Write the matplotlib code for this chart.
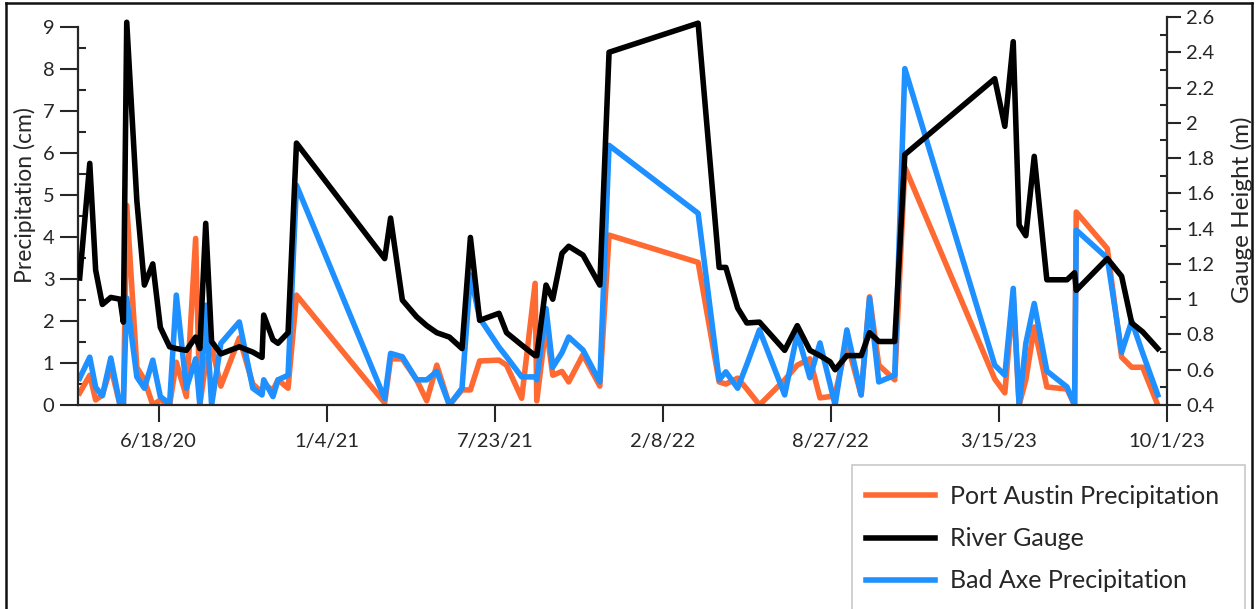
import matplotlib
matplotlib.use('Agg')
import matplotlib.pyplot as plt
from matplotlib.ticker import MultipleLocator, FuncFormatter
from matplotlib.patches import Rectangle
from matplotlib.lines import Line2D
import pandas as pd

plt.rcParams['font.family'] = ['Lato', 'DejaVu Sans']

dates = [
    '2020-03-16', '2020-03-28', '2020-04-04', '2020-04-12', '2020-04-22', '2020-05-03', '2020-05-07', '2020-05-11', '2020-05-23', '2020-06-01',
    '2020-06-11', '2020-06-20', '2020-07-01', '2020-07-09', '2020-07-21', '2020-08-01', '2020-08-06', '2020-08-13', '2020-08-20', '2020-08-31',
    '2020-09-22', '2020-10-08', '2020-10-19', '2020-10-21', '2020-11-01', '2020-11-07', '2020-11-19', '2020-11-29',
    '2021-03-14', '2021-03-21', '2021-04-04', '2021-04-21', '2021-05-03', '2021-05-15', '2021-05-30', '2021-06-14', '2021-06-24', '2021-07-05',
    '2021-07-28', '2021-08-06', '2021-08-24', '2021-09-09', '2021-09-11', '2021-09-22', '2021-09-30', '2021-10-11', '2021-10-19', '2021-11-05', '2021-11-25', '2021-12-06',
    '2022-03-22', '2022-04-16', '2022-04-24', '2022-05-08', '2022-05-19', '2022-06-03', '2022-07-03', '2022-07-18', '2022-08-02', '2022-08-14', '2022-08-26', '2022-09-01', '2022-09-15', '2022-10-02', '2022-10-12', '2022-10-23', '2022-11-11', '2022-11-23',
    '2023-03-10', '2023-03-22', '2023-04-01', '2023-04-08', '2023-04-16', '2023-04-26', '2023-05-11', '2023-06-04', '2023-06-13', '2023-06-15', '2023-07-22', '2023-08-08', '2023-08-20', '2023-09-02', '2023-09-20']

river_gauge = [
    1.12, 1.77, 1.165, 0.97, 1.01, 1.00, 0.87, 2.57, 1.56, 1.08,
    1.20, 0.84, 0.73, 0.72, 0.71, 0.785, 0.72, 1.43, 0.76, 0.69,
    0.73, 0.70, 0.67, 0.91, 0.77, 0.75, 0.81, 1.885,
    1.23, 1.46, 0.995, 0.90, 0.85, 0.81, 0.785, 0.72, 1.35, 0.88,
    0.92, 0.81, 0.74, 0.68, 0.68, 1.08, 1.00, 1.26, 1.30, 1.25, 1.08, 2.40,
    2.565, 1.18, 1.18, 0.95, 0.865, 0.87, 0.71, 0.85, 0.71, 0.68, 0.645, 0.60, 0.68, 0.68, 0.81, 0.76, 0.76, 1.82,
    2.25, 1.98, 2.46, 1.42, 1.36, 1.81, 1.11, 1.11, 1.15, 1.05, 1.23, 1.13, 0.865, 0.815, 0.72]

bad_axe = [
    0.64, 1.14, 0.42, 0.22, 1.12, 0.0, 0.0, 2.55, 0.67, 0.40,
    1.07, 0.20, 0.03, 2.62, 0.40, 1.10, 0.0, 2.38, 0.0, 1.47,
    1.98, 0.40, 0.24, 0.60, 0.20, 0.60, 0.71, 5.24,
    0.15, 1.23, 1.15, 0.60, 0.60, 0.80, 0.0, 0.40, 3.10, 2.07,
    1.38, 1.15, 0.67, 0.67, 0.60, 2.30, 0.90, 1.25, 1.62, 1.31, 0.55, 6.19,
    4.57, 0.60, 0.79, 0.40, 0.97, 1.79, 0.24, 1.71, 0.65, 1.48, 0.50, 0.0, 1.79, 0.24, 2.55, 0.55, 0.71, 8.02,
    0.95, 0.71, 2.78, 0.0, 1.47, 2.42, 0.81, 0.43, 0.0, 4.17, 3.50, 1.26, 2.00, 1.24, 0.24]

port_austin = [
    0.29, 0.71, 0.12, 0.24, 0.90, 0.0, 0.0, 4.76, 0.90, 0.60,
    0.0, 0.12, 0.0, 1.02, 0.20, 3.97, 0.0, 1.00, 1.40, 0.45,
    1.60, 0.50, 0.30, 0.50, 0.35, 0.60, 0.40, 2.62,
    0.05, 1.10, 1.10, 0.60, 0.10, 0.95, 0.0, 0.36, 0.36, 1.05,
    1.07, 0.95, 0.16, 2.90, 0.10, 1.90, 0.71, 0.80, 0.55, 1.20, 0.45, 4.05,
    3.40, 0.55, 0.50, 0.64, 0.38, 0.0, 0.60, 0.95, 1.10, 0.17, 0.20, 0.25, 1.50, 0.24, 2.58, 0.95, 0.60, 5.67,
    0.62, 0.29, 2.60, 0.0, 0.60, 1.86, 0.43, 0.38, 0.0, 4.60, 3.73, 1.14, 0.90, 0.90, 0.0]

x_ticks = ['2020-06-18', '2021-01-04', '2021-07-23', '2022-02-08', '2022-08-27', '2023-03-15', '2023-10-01']
x_tick_labels = ['6/18/20', '1/4/21', '7/23/21', '2/8/22', '8/27/22', '3/15/23', '10/1/23']
x_range = ['2020-03-14', '2023-10-01']

C_ORANGE = '#FF6A33'
C_BLUE = '#1E90FF'
C_BLACK = '#000000'
TXT = '#262626'

W, H = 1257, 609
fig = plt.figure(figsize=(W / 100, H / 100), dpi=100)
fig.patch.set_facecolor('white')

ax = fig.add_axes([78 / W, 1 - 405 / H, (1167 - 78) / W, (405 - 17) / H])
ax2 = ax.twinx()

d = pd.to_datetime(dates)
lw = 4.0
l_or, = ax.plot(d, port_austin, color=C_ORANGE, lw=lw, label='Port Austin Precipitation')
l_bl, = ax.plot(d, bad_axe, color=C_BLUE, lw=lw, label='Bad Axe Precipitation')
l_bk, = ax2.plot(d, river_gauge, color=C_BLACK, lw=lw, label='River Gauge')

ax.set_xlim(pd.to_datetime(x_range[0]), pd.to_datetime(x_range[1]))
ax.set_ylim(0, 9.25)
ax2.set_ylim(0.4, 2.6)

for a in (ax, ax2):
    a.spines['top'].set_visible(False)
ax.spines['right'].set_visible(False)
ax2.spines['left'].set_visible(False)
ax2.spines['bottom'].set_visible(False)
ax.spines['left'].set_bounds(0, 9)
for sp in (ax.spines['left'], ax.spines['bottom'], ax2.spines['right']):
    sp.set_color(TXT)
    sp.set_linewidth(1.6)

ax.set_xticks(pd.to_datetime(x_ticks))
ax.set_xticklabels(x_tick_labels)
ax.tick_params(axis='x', direction='out', length=12, width=1.5, color=TXT,
               labelsize=14.5, labelcolor=TXT, pad=8)

ax.yaxis.set_major_locator(MultipleLocator(1))
ax.yaxis.set_minor_locator(MultipleLocator(0.5))
ax.tick_params(axis='y', which='major', direction='out', length=13, width=1.5,
               color=TXT, labelsize=14.5, labelcolor=TXT, pad=4)
ax.tick_params(axis='y', which='minor', direction='in', length=6, width=1.5, color=TXT)
ax.yaxis.set_major_formatter(FuncFormatter(lambda v, p: f'{int(round(v))}'))

ax2.yaxis.set_major_locator(MultipleLocator(0.2))
ax2.yaxis.set_minor_locator(MultipleLocator(0.1))
ax2.tick_params(axis='y', which='major', direction='out', length=10, width=1.5,
                color=TXT, labelsize=14.5, labelcolor=TXT, pad=4)
ax2.tick_params(axis='y', which='minor', direction='in', length=5, width=1.5, color=TXT)
ax2.yaxis.set_major_formatter(FuncFormatter(lambda v, p: f'{round(v, 1):g}'))

fig.text(25 / W, 1 - 195 / H, 'Precipitation (cm)', rotation=90, ha='center', va='center',
         fontsize=16.5, color=TXT)
fig.text(1242 / W, 1 - 210 / H, 'Gauge Height (m)', rotation=90, ha='center', va='center',
         fontsize=17.5, color=TXT)

# legend box (extends past bottom edge)
fig.add_artist(Rectangle((852 / W, -0.05), (1245 - 852) / W, (1 - 465 / H) + 0.05,
                         transform=fig.transFigure, facecolor='white', edgecolor='#C8C8C8', lw=1.2))
leg = fig.legend(handles=[l_or, l_bk, l_bl], loc='upper left',
                 bbox_to_anchor=(866 / W, 1 - 485 / H), frameon=False, fontsize=18,
                 handlelength=2.75, handletextpad=0.62, labelspacing=0.77,
                 borderpad=0, borderaxespad=0, labelcolor=TXT)

# outer figure frame
for (x0, y0, x1, y1) in [(6, 3, 1252, 3), (6, 3, 6, 640), (1252, 3, 1252, 640)]:
    fig.add_artist(Line2D([x0 / W, x1 / W], [1 - y0 / H, 1 - y1 / H], transform=fig.transFigure,
                          color='#111111', lw=1.8))

fig.savefig('out.png', dpi=100, facecolor='white')
